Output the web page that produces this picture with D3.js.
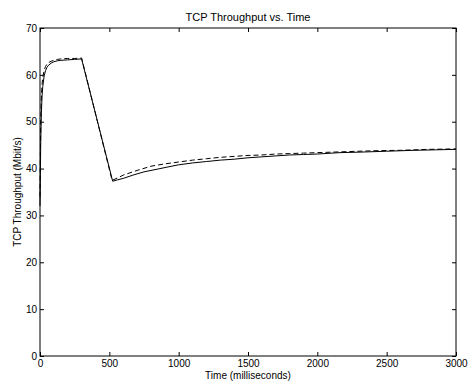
<!DOCTYPE html>
<html>
<head>
<meta charset="utf-8">
<script src="https://cdn.jsdelivr.net/npm/d3@7"></script>
<style>
  body { margin: 0; background: #fff; }
  svg { display: block; font-family: "Liberation Sans", Arial, sans-serif; }
</style>
</head>
<body>
<svg id="chart" width="474" height="386"></svg>
<script>
// time axis values (milliseconds) and throughput (Mbit/s)
const timeSolid = [0, 5, 10, 15, 20, 30, 40, 50, 60, 80, 100, 125, 150, 200, 250, 300,
  524, 560, 600, 670, 750, 850, 915, 1000, 1100, 1200, 1300, 1400, 1500, 1600, 1700,
  1800, 1900, 2000, 2163, 2300, 2500, 2700, 2850, 3000];
const tputSolid = [32, 45, 52, 55.5, 57.5, 59.8, 60.9, 61.6, 62.0, 62.5, 62.8, 63.0, 63.1, 63.2, 63.3, 63.4,
  37.3, 37.6, 37.9, 38.6, 39.3, 39.9, 40.3, 40.8, 41.2, 41.5, 41.8, 42.0, 42.3, 42.5, 42.7,
  42.9, 43.0, 43.1, 43.4, 43.5, 43.7, 43.9, 44.0, 44.1];

const timeDashed = [0, 5, 10, 15, 20, 30, 40, 50, 60, 80, 100, 125, 150, 200, 250, 300,
  520, 560, 600, 700, 800, 900, 1000, 1100, 1200, 1300, 1400, 1500, 1600, 1700,
  1800, 1900, 2000, 2200, 2400, 2600, 2800, 3000];
const tputDashed = [34, 50, 55.5, 58, 59.5, 61, 61.8, 62.3, 62.6, 62.9, 63.1, 63.3, 63.4, 63.5, 63.5, 63.6,
  37.5, 38.0, 38.6, 39.6, 40.5, 41.0, 41.4, 41.8, 42.1, 42.4, 42.6, 42.8, 42.9, 43.1,
  43.2, 43.3, 43.4, 43.6, 43.8, 43.9, 44.1, 44.2];

const xTicks = [0, 500, 1000, 1500, 2000, 2500, 3000];
const yTicks = [0, 10, 20, 30, 40, 50, 60, 70];

const margin = { left: 40, right: 18, top: 28, bottom: 30 };
const width = 474, height = 386;

const svg = d3.select("#chart");

const x = d3.scaleLinear().domain([0, 3000]).range([margin.left, width - margin.right]);
const y = d3.scaleLinear().domain([0, 70]).range([height - margin.bottom, margin.top]);

// axes with inward ticks, box style
const tickLen = 4;
const fmt = d3.format("d");
svg.append("g")
  .attr("transform", `translate(0,${y(0)})`)
  .call(d3.axisBottom(x).tickValues(xTicks).tickFormat(fmt).tickSizeInner(-tickLen).tickSizeOuter(0).tickPadding(4))
  .call(g => g.select(".domain").remove());
svg.append("g")
  .attr("transform", `translate(0,${y(70)})`)
  .call(d3.axisTop(x).tickValues(xTicks).tickSizeInner(-tickLen).tickSizeOuter(0).tickFormat(""))
  .call(g => g.select(".domain").remove());
svg.append("g")
  .attr("transform", `translate(${x(0)},0)`)
  .call(d3.axisLeft(y).tickValues(yTicks).tickFormat(fmt).tickSizeInner(-tickLen).tickSizeOuter(0).tickPadding(3))
  .call(g => g.select(".domain").remove());
svg.append("g")
  .attr("transform", `translate(${x(3000)},0)`)
  .call(d3.axisRight(y).tickValues(yTicks).tickSizeInner(-tickLen).tickSizeOuter(0).tickFormat(""))
  .call(g => g.select(".domain").remove());

svg.selectAll(".tick text").attr("font-size", 10).attr("fill", "#000")
  .attr("font-family", "'Liberation Sans', Arial, sans-serif");
svg.selectAll(".tick line").attr("stroke", "#000");

svg.append("rect")
  .attr("x", x(0)).attr("y", y(70))
  .attr("width", x(3000) - x(0)).attr("height", y(0) - y(70))
  .attr("fill", "none").attr("stroke", "#000").attr("stroke-width", 1);

const line = d3.line().x(d => x(d[0])).y(d => y(d[1]));

svg.append("path")
  .datum(d3.zip(timeDashed, tputDashed))
  .attr("d", line)
  .attr("fill", "none").attr("stroke", "#000").attr("stroke-width", 1)
  .attr("stroke-dasharray", "5,3");

svg.append("path")
  .datum(d3.zip(timeSolid, tputSolid))
  .attr("d", line)
  .attr("fill", "none").attr("stroke", "#000").attr("stroke-width", 1);

// titles
svg.append("text")
  .attr("x", (x(0) + x(3000)) / 2).attr("y", 21)
  .attr("text-anchor", "middle").attr("font-size", 11)
  .text("TCP Throughput vs. Time");
svg.append("text")
  .attr("x", (x(0) + x(3000)) / 2).attr("y", 379)
  .attr("text-anchor", "middle").attr("font-size", 10)
  .text("Time (milliseconds)");
svg.append("text")
  .attr("transform", `translate(21,${(y(0) + y(70)) / 2}) rotate(-90)`)
  .attr("text-anchor", "middle").attr("font-size", 10)
  .text("TCP Throughput (Mbit/s)");
</script>
</body>
</html>
